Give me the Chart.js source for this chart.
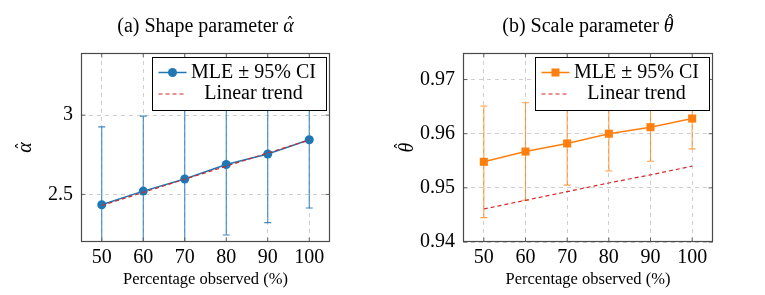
<!DOCTYPE html>
<html><head><meta charset="utf-8">
<script src="https://cdn.jsdelivr.net/npm/chart.js@4"></script>
<style>
html,body{margin:0;padding:0;background:#fff;width:765px;height:295px;overflow:hidden}
canvas{position:absolute;top:0}
#c1{left:0}
#c2{left:382px}
</style></head><body>
<canvas id="c1" width="382" height="295"></canvas>
<canvas id="c2" width="383" height="295"></canvas>
<script>
// ---- data ----
const percentages = [50, 60, 70, 80, 90, 100];
const xTickValues = [50, 60, 70, 80, 90, 100];

const alphaMle   = [2.435, 2.521, 2.597, 2.689, 2.755, 2.845];
const alphaCi    = [0.491, 0.473, 0.460, 0.445, 0.433, 0.431];
const alphaTrend = [2.430, 2.513, 2.596, 2.678, 2.761, 2.843];
const alphaTicks = [2.5, 3];

const thetaMle   = [0.9548, 0.9567, 0.9582, 0.9600, 0.9612, 0.9628];
const thetaCi    = [0.0103, 0.0090, 0.0077, 0.0069, 0.0063, 0.0056];
const thetaTrend = [0.9461, 0.9477, 0.9493, 0.9509, 0.9524, 0.9540];
const thetaTicks = [0.94, 0.95, 0.96, 0.97];

const titlePrefixA = '(a) Shape parameter ';
const titlePrefixB = '(b) Scale parameter ';
const symA = '\u03B1';   // alpha, drawn with a hat
const symB = '\u03B8';   // theta, drawn with a hat
const HAT = '\u02C6';
const xLabel = 'Percentage observed (%)';
const mleLabel = 'MLE \u00B1 95% CI';
const trendLabel = 'Linear trend';

// ---- styling ----
const FONT = '"Liberation Serif", "Times New Roman", serif';
const HATFONT = '16px "DejaVu Serif", "DejaVu Sans", serif';
const RED = '#d62728';
const GRID = '#cfcfcf';

const pts = (xs, ys) => xs.map((v, i) => ({x: v, y: ys[i]}));

// draws prefix (regular) + italic symbol with a circumflex over it, centred at (0,0) baseline
function drawHatted(ctx, prefix, sym, hatShift) {
  ctx.font = '20px ' + FONT;
  const w1 = prefix ? ctx.measureText(prefix).width : 0;
  ctx.font = 'italic 20px ' + FONT;
  const w2 = ctx.measureText(sym).width;
  const x0 = -(w1 + w2) / 2;
  ctx.textAlign = 'left';
  ctx.textBaseline = 'alphabetic';
  if (prefix) {
    ctx.font = '20px ' + FONT;
    ctx.fillText(prefix, x0, 0);
  }
  ctx.font = 'italic 20px ' + FONT;
  ctx.fillText(sym, x0 + w1, 0);
  ctx.font = HATFONT;
  ctx.textAlign = 'center';
  ctx.fillText(HAT, x0 + w1 + w2 / 2 + 1.5, hatShift);
}

const decorPlugin = {
  id: 'decor',
  beforeDatasetsDraw(chart) {
    const {ctx, chartArea: a, scales: {x, y}} = chart;
    ctx.save();
    ctx.beginPath();
    ctx.rect(a.left, a.top, a.right - a.left, a.bottom - a.top);
    ctx.clip();
    chart.data.datasets.forEach(ds => {
      if (!ds.ci) return;
      ctx.strokeStyle = ds.ciColor;
      ctx.lineWidth = 1.1;
      ds.data.forEach((p, i) => {
        const px = x.getPixelForValue(p.x);
        const lo = y.getPixelForValue(p.y - ds.ci[i]);
        const hi = y.getPixelForValue(p.y + ds.ci[i]);
        ctx.beginPath();
        ctx.moveTo(px, lo); ctx.lineTo(px, hi);
        ctx.moveTo(px - 3.5, lo); ctx.lineTo(px + 3.5, lo);
        ctx.moveTo(px - 3.5, hi); ctx.lineTo(px + 3.5, hi);
        ctx.stroke();
      });
    });
    ctx.restore();
  },
  afterDraw(chart) {
    const {ctx, chartArea: a, scales: {x, y}} = chart;
    const deco = chart.options.plugins.decor;
    const L = Math.round(a.left) + 0.5, R = Math.round(a.right) - 0.5;
    const T = Math.round(a.top) + 0.5, B = Math.round(a.bottom) - 0.5;
    ctx.save();
    // inner tick marks
    ctx.strokeStyle = '#666';
    ctx.lineWidth = 1;
    ctx.beginPath();
    x.ticks.forEach(t => {
      const px = x.getPixelForValue(t.value);
      ctx.moveTo(px, B); ctx.lineTo(px, B - 4);
      ctx.moveTo(px, T); ctx.lineTo(px, T + 4);
    });
    y.ticks.forEach(t => {
      const py = y.getPixelForValue(t.value);
      ctx.moveTo(L, py); ctx.lineTo(L + 4, py);
      ctx.moveTo(R, py); ctx.lineTo(R - 4, py);
    });
    ctx.stroke();
    // frame
    ctx.strokeStyle = '#4a4a4a';
    ctx.lineWidth = 1.2;
    ctx.strokeRect(L, T, R - L, B - T);

    // title
    ctx.fillStyle = '#000';
    ctx.save();
    ctx.translate((a.left + a.right) / 2, 32);
    drawHatted(ctx, deco.titlePrefix, deco.sym, deco.hatShift);
    ctx.restore();
    // y-axis label (rotated)
    ctx.save();
    ctx.translate(30.5, (a.top + a.bottom) / 2);
    ctx.rotate(-Math.PI / 2);
    drawHatted(ctx, '', deco.sym, deco.hatShift);
    ctx.restore();

    // legend box
    const mle = chart.data.datasets.find(d => d.ci);
    const trend = chart.data.datasets.find(d => !d.ci);
    const bw = 174, bh = 53;
    const bx = Math.round(a.right - 4 - bw) + 0.5, by = Math.round(a.top + 3.5) + 0.5;
    ctx.fillStyle = '#fff';
    ctx.fillRect(bx, by, bw, bh);
    ctx.strokeStyle = '#000';
    ctx.lineWidth = 1;
    ctx.strokeRect(bx, by, bw, bh);
    const r1 = by + 15, r2 = by + 36.5;
    ctx.strokeStyle = mle.borderColor;
    ctx.lineWidth = 1.5;
    ctx.beginPath(); ctx.moveTo(bx + 6, r1); ctx.lineTo(bx + 34, r1); ctx.stroke();
    ctx.fillStyle = mle.borderColor;
    if (mle.pointStyle === 'rect') {
      ctx.fillRect(bx + 20 - 4, r1 - 4, 8, 8);
    } else {
      ctx.beginPath(); ctx.arc(bx + 20, r1, 4.5, 0, Math.PI * 2); ctx.fill();
    }
    ctx.strokeStyle = trend.borderColor;
    ctx.lineWidth = 1.2;
    ctx.setLineDash([4, 3]);
    ctx.beginPath(); ctx.moveTo(bx + 6, r2); ctx.lineTo(bx + 34, r2); ctx.stroke();
    ctx.setLineDash([]);
    ctx.fillStyle = '#000';
    ctx.font = '20px ' + FONT;
    ctx.textAlign = 'center';
    ctx.textBaseline = 'middle';
    ctx.fillText(mle.label, bx + 101, r1);
    ctx.fillText(trend.label, bx + 101, r2);
    ctx.restore();
  }
};

function makeChart(id, titlePrefix, sym, hatShift, mle, ci, trend, yTicks, yMin, yMax, color, ciColor, pStyle, pRadius) {
  return new Chart(document.getElementById(id), {
    type: 'line',
    data: {
      datasets: [
        {
          label: trendLabel,
          data: pts(percentages, trend),
          borderColor: RED,
          borderWidth: 1.2,
          borderDash: [4, 3],
          pointRadius: 0,
          fill: false,
          order: 0
        },
        {
          label: mleLabel,
          data: pts(percentages, mle),
          ci: ci,
          ciColor: ciColor,
          borderColor: color,
          backgroundColor: color,
          borderWidth: 1.5,
          pointStyle: pStyle,
          pointRadius: pRadius,
          pointBorderWidth: 0,
          pointBackgroundColor: color,
          fill: false,
          order: 1
        }
      ]
    },
    options: {
      responsive: false,
      animation: false,
      devicePixelRatio: 1,
      layout: {padding: {left: 0, right: 52, top: 53, bottom: 0}},
      plugins: {
        legend: {display: false},
        tooltip: {enabled: false},
        title: {display: false},
        decor: {titlePrefix: titlePrefix, sym: sym, hatShift: hatShift}
      },
      scales: {
        x: {
          type: 'linear',
          min: 45, max: 105,
          afterBuildTicks: s => { s.ticks = xTickValues.map(v => ({value: v})); },
          afterFit: s => { s.height = 53; },
          grid: {color: GRID, lineWidth: 1, drawTicks: false},
          border: {display: false, dash: [4, 4]},
          ticks: {color: '#000', padding: 4, maxRotation: 0, autoSkip: false,
                  font: {family: FONT, size: 20, lineHeight: 1.2}},
          title: {display: true, text: xLabel, color: '#000',
                  font: {family: FONT, size: 16.5, lineHeight: 1.2},
                  padding: {top: 0, bottom: 5}}
        },
        y: {
          type: 'linear',
          min: yMin, max: yMax,
          afterBuildTicks: s => { s.ticks = yTicks.map(v => ({value: v})); },
          afterFit: s => { s.width = 81; },
          grid: {color: GRID, lineWidth: 1, drawTicks: false},
          border: {display: false, dash: [4, 4]},
          ticks: {color: '#000', padding: 8,
                  font: {family: FONT, size: 20, lineHeight: 1.2},
                  callback: v => String(v)},
          title: {display: false}
        }
      }
    },
    plugins: [decorPlugin]
  });
}

makeChart('c1', titlePrefixA, symA, -3, alphaMle, alphaCi, alphaTrend, alphaTicks, 2.2, 3.392,
  '#1f77b4', 'rgba(31,119,180,0.85)', 'circle', 4.5);
makeChart('c2', titlePrefixB, symB, -5.5, thetaMle, thetaCi, thetaTrend, thetaTicks, 0.94, 0.9749,
  '#ff7f0e', 'rgba(255,127,14,0.75)', 'rect', 5.7);
</script>
</body></html>
